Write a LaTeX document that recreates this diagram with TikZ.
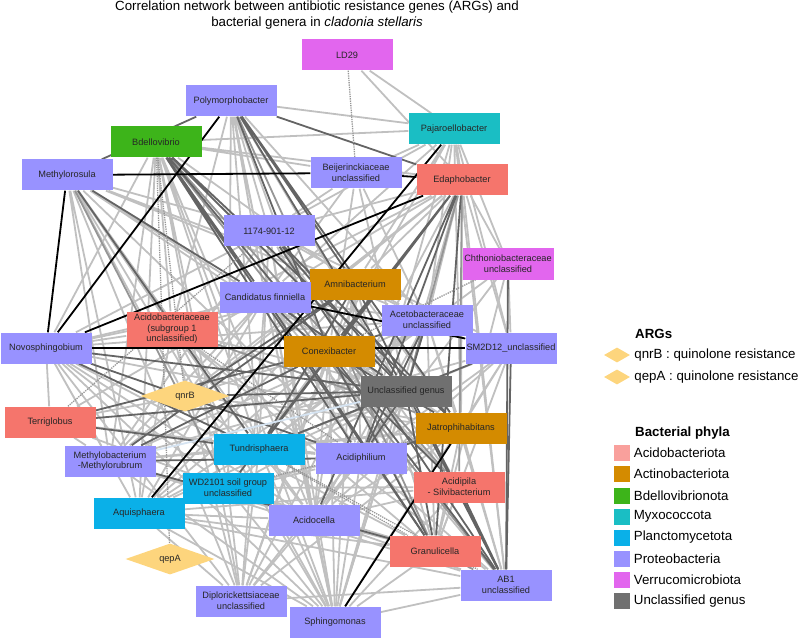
\documentclass[tikz,border=0pt]{standalone}
\usepackage{fontspec}
\setmainfont{Liberation Sans}
\usetikzlibrary{shapes.geometric}

\pgfdeclarelayer{background}
\pgfsetlayers{background,main}

% phylum colours
\definecolor{proteo}{RGB}{152,146,255}
\definecolor{acidob}{RGB}{245,117,108}
\definecolor{acidobkey}{RGB}{249,160,156}
\definecolor{actino}{RGB}{212,139,0}
\definecolor{bdello}{RGB}{61,180,26}
\definecolor{myxo}{RGB}{26,190,196}
\definecolor{plancto}{RGB}{10,176,232}
\definecolor{verruco}{RGB}{226,102,238}
\definecolor{unclgen}{RGB}{112,112,112}
\definecolor{argfill}{RGB}{253,213,125}
% edge colours
\definecolor{edgelight}{RGB}{192,192,192}
\definecolor{edgemid}{RGB}{150,150,150}
\definecolor{edgedark}{RGB}{100,100,100}
\definecolor{edgepale}{RGB}{214,228,242}

\newcommand{\genusfont}{\fontsize{9.2}{10.6}\selectfont}
\newcommand{\legfont}{\fontsize{13.3}{16}\selectfont}

\tikzset{
  genus/.style={rectangle, minimum width=91pt, minimum height=31pt, inner sep=1pt,
    align=center, font=\genusfont, text=black!85},
  arg/.style={diamond, fill=argfill, minimum width=89pt, minimum height=31pt,
    inner sep=0pt, font=\genusfont, text=black!85},
  lgt/.style={draw=edgelight, line width=1.8pt},
  med/.style={draw=edgemid, line width=1.8pt},
  drk/.style={draw=edgedark, line width=1.8pt},
  blk/.style={draw=black, line width=1.8pt},
  pale/.style={draw=edgepale, line width=1.8pt},
  dotline/.style={draw=edgemid, line width=1.3pt, densely dotted},
  swatch/.style={rectangle, minimum width=16pt, minimum height=16pt, inner sep=0pt},
  keyentry/.style={label={[font=\legfont, inner sep=0pt, label distance=4pt]right:#1}},
}

\begin{document}
\begin{tikzpicture}[x=1pt, y=-1pt]
\useasboundingbox (0,0) rectangle (798,639);

\node[font=\legfont, align=center] (title) at (317,15)
  {Correlation network between antibiotic resistance genes (ARGs) and\\
   bacterial genera in \textit{cladonia stellaris}};

% genera
\node[genus, fill=verruco] (ld) at (347,55) {LD29};
\node[genus, fill=proteo] (poly) at (231,101) {Polymorphobacter};
\node[genus, fill=myxo] (paja) at (454,129) {Pajaroellobacter};
\node[genus, fill=bdello] (bdel) at (156,142) {Bdellovibrio};
\node[genus, fill=proteo] (mros) at (67,175) {Methylorosula};
\node[genus, fill=proteo] (beij) at (356,173) {Beijerinckiaceae\\unclassified};
\node[genus, fill=acidob] (edap) at (462,180) {Edaphobacter};
\node[genus, fill=proteo] (n1174) at (269,231) {1174-901-12};
\node[genus, fill=verruco] (chth) at (508,264) {Chthoniobacteraceae\\unclassified};
\node[genus, fill=actino] (amni) at (355,284) {Amnibacterium};
\node[genus, fill=proteo] (cand) at (265,297) {Candidatus finniella};
\node[genus, fill=proteo] (acet) at (427,320) {Acetobacteraceae\\unclassified};
\node[genus, fill=acidob, minimum height=35pt] (acdb) at (172,329) {Acidobacteriaceae\\(subgroup 1\\unclassified)};
\node[genus, fill=proteo] (novo) at (46,348) {Novosphingobium};
\node[genus, fill=actino] (conx) at (329,351) {Conexibacter};
\node[genus, fill=proteo] (smd) at (511,348) {SM2D12\_unclassified};
\node[genus, fill=unclgen] (uncl) at (406,391) {Unclassified genus};
\node[arg] (qnrb) at (185,396) {qnrB};
\node[genus, fill=acidob] (terr) at (50,422) {Terriglobus};
\node[genus, fill=actino] (jatr) at (461,428) {Jatrophihabitans};
\node[genus, fill=plancto] (tund) at (259,449) {Tundrisphaera};
\node[genus, fill=proteo] (mbac) at (110,461) {Methylobacterium\\-Methylorubrum};
\node[genus, fill=proteo] (acph) at (361,458) {Acidiphilium};
\node[genus, fill=acidob] (acpl) at (459,487) {Acidipila\\- Silvibacterium};
\node[genus, fill=plancto] (wd) at (228,488) {WD2101 soil group\\unclassified};
\node[genus, fill=plancto] (aqui) at (139,513) {Aquisphaera};
\node[genus, fill=proteo] (acdc) at (314,520) {Acidocella};
\node[genus, fill=acidob] (gran) at (435,551) {Granulicella};
\node[arg] (qepa) at (170,559) {qepA};
\node[genus, fill=proteo] (dipl) at (241,601) {Diplorickettsiaceae\\unclassified};
\node[genus, fill=proteo] (sphi) at (335,622) {Sphingomonas};
\node[genus, fill=proteo] (ab1) at (506,585) {AB1\\unclassified};

% correlations, behind the genera
\begin{pgfonlayer}{background}
\draw[lgt] (ld) -- (edap) (ld) -- (paja);
\draw[lgt] (poly) -- (paja) (poly) -- (n1174) (poly) -- (cand) (poly) -- (acph)
  (poly) -- (acdc) (poly) -- (tund) (poly) -- (acet) (poly) -- (acdb)
  (poly) -- (wd) (poly) -- (sphi) (poly) -- (acpl);
\draw[lgt] (bdel) -- (paja) (bdel) -- (beij) (bdel) -- (edap) (bdel) -- (novo)
  (bdel) -- (acdb) (bdel) -- (amni) (bdel) -- (tund) (bdel) -- (wd)
  (bdel) -- (mbac) (bdel) -- (aqui) (bdel) -- (acdc) (bdel) -- (sphi) (bdel) -- (dipl);
\draw[lgt] (mros) -- (conx) (mros) -- (n1174) (mros) -- (acdb) (mros) -- (qnrb)
  (mros) -- (mbac) (mros) -- (aqui) (mros) -- (acdc) (mros) -- (dipl)
  (mros) -- (sphi) (mros) -- (uncl) (mros) -- (acet) (mros) -- (acph) (mros) -- (amni);
\draw[lgt] (edap) -- (paja) (edap) -- (amni) (edap) -- (cand) (edap) -- (n1174)
  (edap) -- (acdb) (edap) -- (qnrb) (edap) -- (jatr) (edap) -- (ab1)
  (edap) -- (smd) (edap) -- (acet) (edap) -- (chth) (edap) -- (mbac)
  (edap) -- (sphi) (edap) -- (dipl);
\draw[lgt] (paja) -- (beij) (paja) -- (chth) (paja) -- (smd) (paja) -- (ab1)
  (paja) -- (acet) (paja) -- (acph) (paja) -- (jatr) (paja) -- (amni)
  (paja) -- (conx) (paja) -- (cand) (paja) -- (n1174);
\draw[lgt] (beij) -- (n1174) (beij) -- (cand) (beij) -- (conx) (beij) -- (acet) (beij) -- (uncl);
\draw[lgt] (n1174) -- (novo) (n1174) -- (acet) (n1174) -- (smd) (n1174) -- (acpl)
  (n1174) -- (gran) (n1174) -- (acdc) (n1174) -- (sphi) (n1174) -- (mbac) (n1174) -- (tund);
\draw[lgt] (chth) -- (acph) (chth) -- (smd) (chth) -- (acdc) (chth) -- (tund) (chth) -- (gran);
\draw[lgt] (amni) -- (acet) (amni) -- (novo) (amni) -- (acdb) (amni) -- (aqui)
  (amni) -- (acdc) (amni) -- (gran) (amni) -- (sphi) (amni) -- (dipl)
  (amni) -- (acph) (amni) -- (jatr);
\draw[lgt] (cand) -- (acet) (cand) -- (novo) (cand) -- (terr) (cand) -- (mbac)
  (cand) -- (qnrb) (cand) -- (aqui) (cand) -- (ab1) (cand) -- (jatr)
  (cand) -- (acph) (cand) -- (dipl) (cand) -- (sphi) (cand) -- (acdc);
\draw[lgt] (acet) -- (novo) (acet) -- (tund) (acet) -- (wd) (acet) -- (acdc)
  (acet) -- (gran) (acet) -- (ab1) (acet) -- (jatr) (acet) -- (mbac)
  (acet) -- (aqui) (acet) -- (sphi);
\draw[lgt] (acdb) -- (novo) (acdb) -- (cand) (acdb) -- (tund) (acdb) -- (uncl)
  (acdb) -- (gran) (acdb) -- (ab1) (acdb) -- (sphi) (acdb) -- (dipl) (acdb) -- (aqui);
\draw[lgt] (novo) -- (terr) (novo) -- (mbac) (novo) -- (jatr) (novo) -- (aqui)
  (novo) -- (acdc) (novo) -- (wd) (novo) -- (gran) (novo) -- (sphi) (novo) -- (dipl);
\draw[lgt] (conx) -- (uncl) (conx) -- (acpl) (conx) -- (sphi) (conx) -- (dipl)
  (conx) -- (acdc) (conx) -- (tund) (conx) -- (aqui) (conx) -- (qnrb) (conx) -- (wd);
\draw[lgt] (smd) -- (jatr) (smd) -- (acpl) (smd) -- (gran) (smd) -- (uncl)
  (smd) -- (acph) (smd) -- (mbac) (smd) -- (sphi) (smd) -- (acdc);
\draw[lgt] (uncl) -- (acdc) (uncl) -- (sphi) (uncl) -- (aqui) (uncl) -- (wd) (uncl) -- (dipl);
\draw[lgt] (jatr) -- (tund) (jatr) -- (ab1) (jatr) -- (gran) (jatr) -- (acdc)
  (jatr) -- (mbac) (jatr) -- (qnrb) (jatr) -- (dipl) (jatr) -- (aqui);
\draw[lgt] (tund) -- (acph) (tund) -- (sphi) (tund) -- (dipl) (tund) -- (aqui)
  (tund) -- (mbac) (tund) -- (qnrb) (tund) -- (acdc);
\draw[lgt] (mbac) -- (acdc) (mbac) -- (sphi) (mbac) -- (ab1) (mbac) -- (terr);
\draw[lgt] (acph) -- (ab1) (acph) -- (sphi) (acph) -- (acdc) (acph) -- (dipl) (acph) -- (aqui);
\draw[lgt] (acpl) -- (sphi) (acpl) -- (gran) (acpl) -- (aqui) (acpl) -- (wd) (acpl) -- (acdc);
\draw[lgt] (wd) -- (ab1) (wd) -- (sphi) (wd) -- (gran) (wd) -- (acdc) (wd) -- (dipl);
\draw[lgt] (aqui) -- (ab1) (aqui) -- (sphi) (aqui) -- (gran) (aqui) -- (acdc) (aqui) -- (dipl);
\draw[lgt] (acdc) -- (sphi) (acdc) -- (gran) (gran) -- (sphi) (dipl) -- (ab1) (sphi) -- (ab1);
\draw[lgt] (terr) -- (qnrb) (terr) -- (acph) (terr) -- (wd);

\draw[med] (poly) -- (gran) (bdel) -- (acpl) (bdel) -- (ab1) (edap) -- (uncl)
  (edap) -- (acpl) (uncl) -- (tund) (acdb) -- (jatr) (gran) -- (ab1) (mros) -- (wd);

\draw[drk] (poly) -- (mros) (poly) -- (edap) (poly) -- (amni) (poly) -- (conx)
  (poly) -- (uncl) (poly) -- (jatr);
\draw[drk] (bdel) -- (cand) (bdel) -- (conx) (bdel) -- (uncl) (bdel) -- (acph)
  (bdel) -- (jatr) (bdel) -- (gran);
\draw[drk] (mros) -- (cand) (mros) -- (tund);
\draw[drk] (edap) -- (conx) (edap) -- (tund) (edap) -- (acph) (edap) -- (acdc)
  (edap) -- (gran) (edap) -- (wd);
\draw[drk] (n1174) -- (uncl) (n1174) -- (jatr) (n1174) -- (ab1) (chth) -- (ab1);
\draw[drk] (amni) -- (qnrb) (amni) -- (mbac) (amni) -- (tund) (amni) -- (ab1);
\draw[drk] (cand) -- (uncl) (cand) -- (acpl) (cand) -- (gran);
\draw[drk] (acet) -- (conx) (acet) -- (smd) (acet) -- (uncl) (acet) -- (acph);
\draw[drk] (novo) -- (tund) (novo) -- (uncl) (novo) -- (acph);
\draw[drk] (conx) -- (jatr) (conx) -- (gran) (conx) -- (ab1) (conx) -- (mbac) (conx) -- (terr);
\draw[drk] (smd) -- (ab1) (smd) -- (tund);
\draw[drk] (uncl) -- (qnrb) (uncl) -- (terr) (uncl) -- (acph) (uncl) -- (gran) (uncl) -- (ab1);
\draw[drk] (tund) -- (terr) (mbac) -- (acph) (mbac) -- (gran) (acpl) -- (ab1) (jatr) -- (acph);

\draw[pale] (mbac) -- (uncl);

\draw[dotline] (ld) -- (beij);
\draw[dotline] (bdel) -- (qnrb);
\draw[dotline] (bdel) -- (qepa);
\draw[dotline] (terr) -- (n1174);
\draw[dotline] (chth) -- (conx);
\draw[dotline] (tund) -- (gran);
\draw[dotline] (tund) -- (ab1);
\draw[dotline] (wd) -- (jatr);
\draw[dotline] (acdb) -- (acph);

\draw[blk] (mros) -- (beij);
\draw[blk] (beij) -- (edap);
\draw[blk] (mros) -- (novo);
\draw[blk] (poly) -- (novo);
\draw[blk] (novo) -- (edap);
\draw[blk] (paja) -- (aqui);
\draw[blk] (novo) -- (smd);
\draw[blk] (cand) -- (smd);
\draw[blk] (sphi) -- (jatr);
\end{pgfonlayer}

% legend
\node[font=\legfont\bfseries, anchor=west, inner sep=0pt] (argkey) at (635,334) {ARGs};
\node[diamond, fill=argfill, minimum width=26pt, minimum height=15pt, inner sep=0pt,
  keyentry={qnrB : quinolone resistance}] (keyqnrb) at (617,355) {};
\node[diamond, fill=argfill, minimum width=26pt, minimum height=15pt, inner sep=0pt,
  keyentry={qepA : quinolone resistance}] (keyqepa) at (617,377) {};

\node[font=\legfont\bfseries, anchor=west, inner sep=0pt] (phylakey) at (635,433) {Bacterial phyla};
\node[swatch, fill=acidobkey, keyentry=Acidobacteriota] (keyacido) at (621.5,453) {};
\node[swatch, fill=actino, keyentry=Actinobacteriota] (keyactino) at (621.5,474) {};
\node[swatch, fill=bdello, keyentry=Bdellovibrionota] (keybdello) at (621.5,495.5) {};
\node[swatch, fill=myxo, keyentry=Myxococcota] (keymyxo) at (621.5,516.5) {};
\node[swatch, fill=plancto, keyentry=Planctomycetota] (keyplancto) at (621.5,537.5) {};
\node[swatch, fill=proteo, keyentry=Proteobacteria] (keyproteo) at (621.5,559) {};
\node[swatch, fill=verruco, keyentry=Verrucomicrobiota] (keyverruco) at (621.5,580) {};
\node[swatch, fill=unclgen, keyentry=Unclassified genus] (keyuncl) at (621.5,601) {};
\end{tikzpicture}
\end{document}
